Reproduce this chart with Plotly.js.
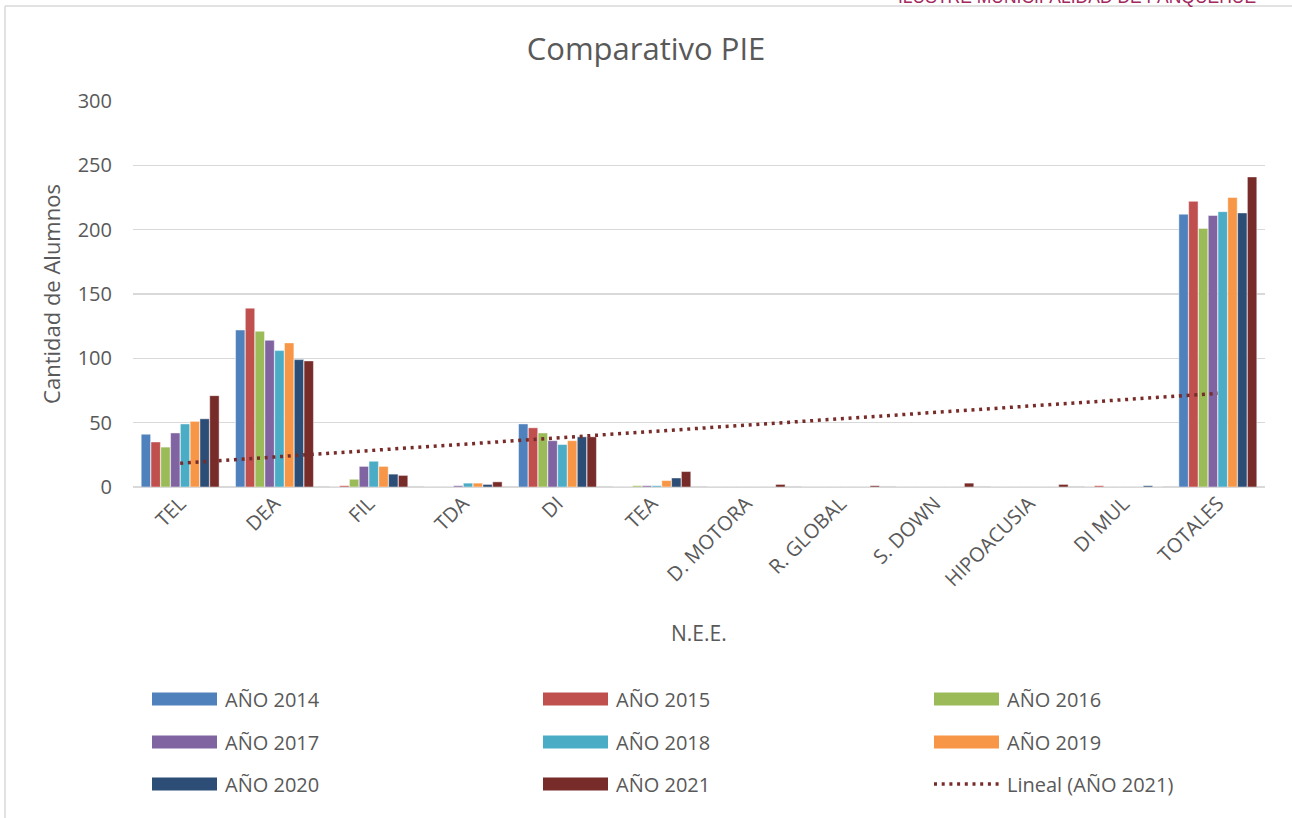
<!DOCTYPE html>
<html><head><meta charset="utf-8">
<script src="https://cdn.plot.ly/plotly-3.0.1.min.js"></script>
<style>html,body{margin:0;padding:0;background:#fff;}#chart{width:1292px;height:818px;}</style>
</head><body><div id="chart"></div>
<script>
// ---- data ----
const categories = ['TEL','DEA','FIL','TDA','DI','TEA','D. MOTORA','R. GLOBAL','S. DOWN','HIPOACUSIA','DI MUL','TOTALES'];
const seriesNames = ['AÑO 2014','AÑO 2015','AÑO 2016','AÑO 2017','AÑO 2018','AÑO 2019','AÑO 2020','AÑO 2021'];
const anio2014 = [41,122,0,0,49,0,0,0,0,0,0,212];
const anio2015 = [35,139,1,0,46,0,0,0,0,0,1,222];
const anio2016 = [31,121,6,0,42,1,0,0,0,0,0,201];
const anio2017 = [42,114,16,1,36,1,0,0,0,0,0,211];
const anio2018 = [49,106,20,3,33,1,0,0,0,0,0,214];
const anio2019 = [51,112,16,3,36,5,0,0,0,0,0,225];
const anio2020 = [53,99,10,2,39,7,0,0,0,0,1,213];
const anio2021 = [71,98,9,4,39,12,2,1,3,2,0,241];
const trendName = 'Lineal (AÑO 2021)';
const trendX = ['TEL','TOTALES'];
const trendY = [18.4, 72.8];
const yTicks = [0,50,100,150,200,250,300];
const headerText = 'ILUSTRE MUNICIPALIDAD DE PANQUEHUE';

// ---- styles ----
const colors = ['#4f81bd','#c0504d','#9bbb59','#8064a2','#4bacc6','#f79646','#2c4d75','#772c2a'];
const seriesValues = [anio2014,anio2015,anio2016,anio2017,anio2018,anio2019,anio2020,anio2021];
const FONT = '"Open Sans", "Noto Sans", sans-serif';
const GREY = '#595959';

// plot area in pixels
const L = 133, R = 1265, T = 101, B = 487;
const px = X => (X - L) / (R - L);
const py = Y => (B - Y) / (B - T);

const traces = seriesValues.map((vals, i) => ({
  type: 'bar', name: seriesNames[i], x: categories, y: vals,
  marker: {color: colors[i], line: {color: 'rgba(255,255,255,0.45)', width: 1}},
  showlegend: false, hoverinfo: 'x+y+name'
}));
const trendDash = '3px,4.7px';
traces.push({
  type: 'scatter', mode: 'lines', name: trendName, x: trendX, y: trendY,
  line: {color: '#772c2a', width: 3.5, dash: trendDash}, showlegend: false
});

// manual legend
const shapes = [];
const annotations = [];
const legendNames = seriesNames.concat([trendName]);
const colX = [152, 543, 934];
const rowY = [699, 742, 784];
legendNames.forEach((nm, k) => {
  const c = k % 3, r = Math.floor(k / 3);
  const x0 = colX[c], x1 = colX[c] + 65, y = rowY[r];
  if (k < seriesNames.length) {
    shapes.push({type: 'rect', xref: 'paper', yref: 'paper',
      x0: px(x0), x1: px(x1), y0: py(y + 6.5), y1: py(y - 6.5),
      fillcolor: colors[k], line: {width: 0}});
  } else {
    shapes.push({type: 'line', xref: 'paper', yref: 'paper',
      x0: px(x0), x1: px(x1), y0: py(y), y1: py(y),
      line: {color: '#772c2a', width: 3.5, dash: trendDash}});
  }
  annotations.push({xref: 'paper', yref: 'paper', x: px(x1 + 6), y: py(y),
    xanchor: 'left', yanchor: 'middle', text: nm, showarrow: false,
    font: {family: FONT, size: 20, color: GREY}});
});

// outer chart border (top and left edges visible)
shapes.push({type: 'line', xref: 'paper', yref: 'paper', x0: px(5), x1: px(5), y0: py(6), y1: py(830),
  line: {color: '#d9d9d9', width: 1.5}});
shapes.push({type: 'line', xref: 'paper', yref: 'paper', x0: px(5), x1: px(1300), y0: py(6), y1: py(6),
  line: {color: '#d9d9d9', width: 1.5}});

// cut header
annotations.push({xref: 'paper', yref: 'paper', x: px(1258), y: py(-3), xanchor: 'right', yanchor: 'middle',
  text: headerText, showarrow: false, font: {family: 'Liberation Sans, Arial, sans-serif', size: 17.5, color: '#a3285e'}});

// x axis title
annotations.push({xref: 'paper', yref: 'paper', x: px(699), y: py(633), xanchor: 'center', yanchor: 'middle',
  text: 'N.E.E.', showarrow: false, font: {family: FONT, size: 21, color: GREY}});

const layout = {
  width: 1292, height: 818,
  margin: {l: L, r: 1292 - R, t: T, b: 818 - B, pad: 0},
  paper_bgcolor: '#fff', plot_bgcolor: '#fff',
  title: {text: 'Comparativo PIE', x: 0.5, xref: 'container', xanchor: 'center', y: 1 - 49/818, yanchor: 'middle',
    font: {family: FONT, size: 31, color: GREY}},
  barmode: 'group', bargap: 0.17, bargroupgap: 0.04,
  font: {family: FONT, color: GREY},
  xaxis: {type: 'category', tickangle: -45, tickfont: {family: FONT, size: 20, color: GREY},
    showgrid: false, showline: false, ticks: '', automargin: false, fixedrange: true},
  yaxis: {range: [0, 300], tickvals: yTicks, ticktext: yTicks.map(String),
    tickfont: {family: FONT, size: 20, color: GREY}, gridcolor: '#d9d9d9', gridwidth: 1.4,
    zeroline: true, zerolinecolor: '#d9d9d9', zerolinewidth: 1.6, showline: false, ticks: '',
    ticklabelstandoff: 20, automargin: false, fixedrange: true,
    title: {text: 'Cantidad de Alumnos', standoff: 10, font: {family: FONT, size: 22, color: GREY}}},
  shapes: shapes, annotations: annotations
};

Plotly.newPlot('chart', traces, layout, {displayModeBar: false, staticPlot: true});
</script>
</body></html>
